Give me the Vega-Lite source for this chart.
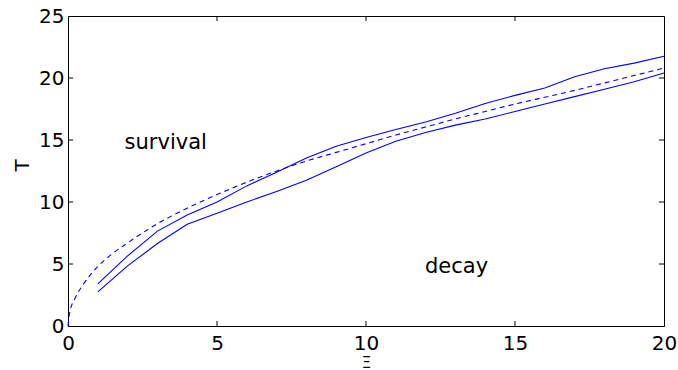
{
  "$schema": "https://vega.github.io/schema/vega-lite/v6.json",
  "width": 596,
  "height": 310,
  "autosize": {"type": "none"},
  "padding": {"left": 68, "top": 16, "right": 14, "bottom": 44},
  "background": "white",
  "config": {
    "view": {"stroke": "black", "strokeWidth": 1},
    "font": "DejaVu Sans",
    "axis": {
      "grid": false,
      "ticks": false,
      "domainColor": "black",
      "labelColor": "black",
      "titleColor": "black",
      "labelFont": "DejaVu Sans",
      "titleFont": "DejaVu Sans",
      "labelFontSize": 20,
      "titleFontWeight": "normal"
    }
  },
  "datasets": {
    "solid": [
      {"s": "upper", "x": 1, "t": 3.4}, {"s": "upper", "x": 2, "t": 5.65}, {"s": "upper", "x": 3, "t": 7.65},
      {"s": "upper", "x": 4, "t": 8.95}, {"s": "upper", "x": 5, "t": 10.0}, {"s": "upper", "x": 6, "t": 11.3},
      {"s": "upper", "x": 7, "t": 12.4}, {"s": "upper", "x": 8, "t": 13.55}, {"s": "upper", "x": 9, "t": 14.5},
      {"s": "upper", "x": 10, "t": 15.2}, {"s": "upper", "x": 11, "t": 15.85}, {"s": "upper", "x": 12, "t": 16.45},
      {"s": "upper", "x": 13, "t": 17.15}, {"s": "upper", "x": 14, "t": 17.95}, {"s": "upper", "x": 15, "t": 18.6},
      {"s": "upper", "x": 16, "t": 19.2}, {"s": "upper", "x": 17, "t": 20.1}, {"s": "upper", "x": 18, "t": 20.75},
      {"s": "upper", "x": 19, "t": 21.2}, {"s": "upper", "x": 20, "t": 21.75},
      {"s": "lower", "x": 1, "t": 2.75}, {"s": "lower", "x": 2, "t": 4.85}, {"s": "lower", "x": 3, "t": 6.65},
      {"s": "lower", "x": 4, "t": 8.2}, {"s": "lower", "x": 5, "t": 9.1}, {"s": "lower", "x": 6, "t": 10.0},
      {"s": "lower", "x": 7, "t": 10.85}, {"s": "lower", "x": 8, "t": 11.75}, {"s": "lower", "x": 9, "t": 12.85},
      {"s": "lower", "x": 10, "t": 13.95}, {"s": "lower", "x": 11, "t": 14.9}, {"s": "lower", "x": 12, "t": 15.6},
      {"s": "lower", "x": 13, "t": 16.2}, {"s": "lower", "x": 14, "t": 16.7}, {"s": "lower", "x": 15, "t": 17.3},
      {"s": "lower", "x": 16, "t": 17.9}, {"s": "lower", "x": 17, "t": 18.5}, {"s": "lower", "x": 18, "t": 19.1},
      {"s": "lower", "x": 19, "t": 19.7}, {"s": "lower", "x": 20, "t": 20.4}
    ],
    "dashed": [
      {"x": 0, "t": 0}, {"x": 0.05, "t": 1.0}, {"x": 0.25, "t": 2.3}, {"x": 0.5, "t": 3.3},
      {"x": 1, "t": 4.8}, {"x": 1.5, "t": 5.85}, {"x": 2, "t": 6.7}, {"x": 3, "t": 8.25},
      {"x": 4, "t": 9.5}, {"x": 5, "t": 10.6}, {"x": 6, "t": 11.6}, {"x": 7, "t": 12.5},
      {"x": 8, "t": 13.3}, {"x": 9, "t": 14.0}, {"x": 10, "t": 14.7}, {"x": 11, "t": 15.4},
      {"x": 12, "t": 16.05}, {"x": 13, "t": 16.7}, {"x": 14, "t": 17.3}, {"x": 15, "t": 17.9},
      {"x": 16, "t": 18.45}, {"x": 17, "t": 19.0}, {"x": 18, "t": 19.6}, {"x": 19, "t": 20.2},
      {"x": 20, "t": 20.8}
    ],
    "labels": [
      {"x": 1.9, "t": 14.27, "label": "survival"},
      {"x": 11.98, "t": 4.3, "label": "decay"}
    ],
    "xticks": [
      {"x": 5, "y1": 0, "y2": 0.4}, {"x": 10, "y1": 0, "y2": 0.4}, {"x": 15, "y1": 0, "y2": 0.4},
      {"x": 5, "y1": 25, "y2": 24.6}, {"x": 10, "y1": 25, "y2": 24.6}, {"x": 15, "y1": 25, "y2": 24.6}
    ],
    "yticks": [
      {"y": 5, "x1": 0, "x2": 0.17}, {"y": 10, "x1": 0, "x2": 0.17}, {"y": 15, "x1": 0, "x2": 0.17}, {"y": 20, "x1": 0, "x2": 0.17},
      {"y": 5, "x1": 20, "x2": 19.83}, {"y": 10, "x1": 20, "x2": 19.83}, {"y": 15, "x1": 20, "x2": 19.83}, {"y": 20, "x1": 20, "x2": 19.83}
    ]
  },
  "layer": [
    {
      "data": {"name": "solid"},
      "mark": {"type": "line", "color": "#0000ff", "strokeWidth": 1.1},
      "encoding": {
        "x": {
          "field": "x", "type": "quantitative",
          "scale": {"domain": [0, 20], "nice": false, "zero": false},
          "axis": {"values": [0, 5, 10, 15, 20], "title": "Ξ", "titleFontSize": 15, "labelPadding": 7, "titleY": 36, "titleBaseline": "middle", "labelFlush": false}
        },
        "y": {
          "field": "t", "type": "quantitative",
          "scale": {"domain": [0, 25], "nice": false, "zero": false},
          "axis": {"values": [0, 5, 10, 15, 20, 25], "title": "T", "titleFontSize": 20, "labelPadding": 4, "titleAngle": 270, "titleX": -46, "titleY": 149, "titleAlign": "center", "titleBaseline": "middle", "labelFlush": false}
        },
        "detail": {"field": "s"}
      }
    },
    {
      "data": {"name": "dashed"},
      "mark": {"type": "line", "color": "#0000ff", "strokeWidth": 1.1, "strokeDash": [5, 4], "interpolate": "monotone"},
      "encoding": {
        "x": {"field": "x", "type": "quantitative"},
        "y": {"field": "t", "type": "quantitative"}
      }
    },
    {
      "data": {"name": "xticks"},
      "mark": {"type": "rule", "color": "black", "strokeWidth": 1},
      "encoding": {
        "x": {"field": "x", "type": "quantitative"},
        "y": {"field": "y1", "type": "quantitative"},
        "y2": {"field": "y2"}
      }
    },
    {
      "data": {"name": "yticks"},
      "mark": {"type": "rule", "color": "black", "strokeWidth": 1},
      "encoding": {
        "y": {"field": "y", "type": "quantitative"},
        "x": {"field": "x1", "type": "quantitative"},
        "x2": {"field": "x2"}
      }
    },
    {
      "data": {"name": "labels"},
      "mark": {"type": "text", "align": "left", "baseline": "alphabetic", "fontSize": 21, "font": "DejaVu Sans", "color": "black"},
      "encoding": {
        "x": {"field": "x", "type": "quantitative"},
        "y": {"field": "t", "type": "quantitative"},
        "text": {"field": "label"}
      }
    }
  ]
}
